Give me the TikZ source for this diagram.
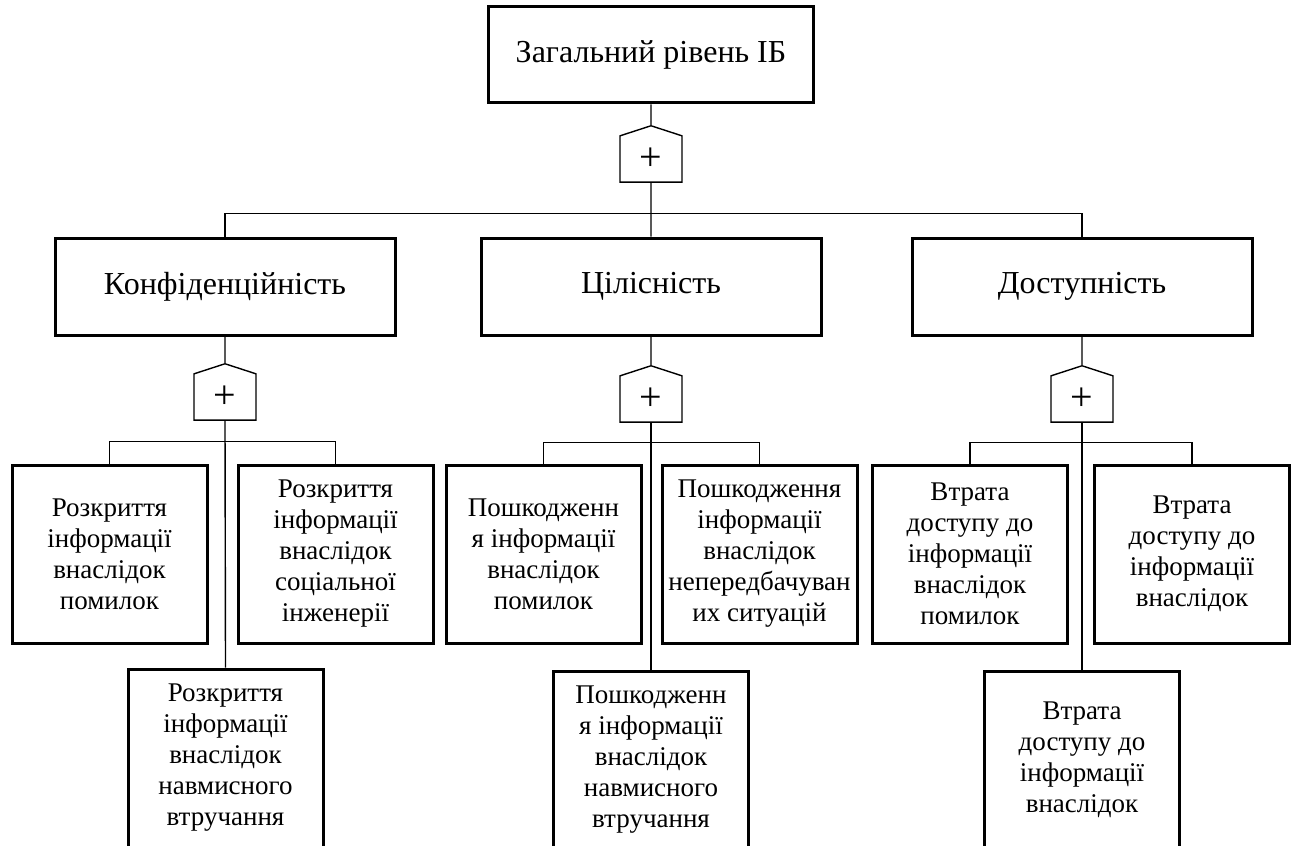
\documentclass[tikz,border=0pt]{standalone}
\usepackage{fontspec}
\setmainfont{Liberation Serif}
\usetikzlibrary{positioning,shapes.symbols}

\begin{document}
\begin{tikzpicture}[x=0.5pt,y=-0.5pt,
    box/.style={draw, line width=1.5pt, align=center, inner sep=2pt},
    topbox/.style={box, minimum width=162.5pt, minimum height=48pt, font=\fontsize{16}{18.5}\selectfont},
    midbox/.style={box, minimum width=170pt, minimum height=48.5pt, font=\fontsize{16}{18.5}\selectfont},
    leafbox/.style={box, minimum width=97.5pt, minimum height=89pt, font=\fontsize{13.5}{15.5}\selectfont},
    gate/.style={draw, line width=0.7pt, signal, signal to=north, signal pointer angle=144, minimum width=31pt, minimum height=25pt, inner sep=0pt, font=\fontsize{20}{20}\selectfont},
    link/.style={line width=0.7pt}]
        \clip (0,0) rectangle (1299,845);

        \node[topbox] (overall) at (651,55) {Загальний рівень ІБ};
        \node[gate] (gtop) at (651,159) {+};

        \node[midbox] (conf) at (225,286.5) {Конфіденційність};
        \node[midbox] (integ) at (651,286.5) {Цілісність};
        \node[midbox] (avail) at (1082,286.5) {Доступність};

        \node[gate] (gconf) at (225,397) {+};
        \node[gate] (ginteg) at (651,399) {+};
        \node[gate] (gavail) at (1082,399) {+};

        \node[leafbox] (confErr) at (109.5,554) {Розкриття\\інформації\\внаслідок\\помилок};
        \node[leafbox] (confSoc) at (335.5,554) {Розкриття\\інформації\\внаслідок\\соціальної\\інженерії};
        \node[leafbox] (confInt) at (225.5,758) {Розкриття\\інформації\\внаслідок\\навмисного\\втручання};

        \node[leafbox] (integErr) at (543.5,554) {Пошкодженн\\я інформації\\внаслідок\\помилок};
        \node[leafbox] (integSit) at (759.5,554) {Пошкодження\\інформації\\внаслідок\\непередбачуван\\их ситуацій};
        \node[leafbox] (integInt) at (651,760) {Пошкодженн\\я інформації\\внаслідок\\навмисного\\втручання};

        \node[leafbox] (availErr) at (970,554) {Втрата\\доступу до\\інформації\\внаслідок\\помилок};
        \node[leafbox] (availB) at (1192,554) {Втрата\\доступу до\\інформації\\внаслідок};
        \node[leafbox] (availC) at (1082,760) {Втрата\\доступу до\\інформації\\внаслідок};

        \draw[link] (overall) -- (gtop);
        \draw[link] (gtop) -- (integ);
        \draw[link] (conf.north) -- ++(0,-23) -| (avail.north);

        \draw[link] (conf) -- (gconf);
        \draw[link] (gconf.south) -- (confInt.north);
        \draw[link] (confErr.north) -- ++(0,-22) -| (confSoc.north);

        \draw[link] (integ) -- (ginteg);
        \draw[link] (ginteg.south) -- (integInt.north);
        \draw[link] (integErr.north) -- ++(0,-21) -| (integSit.north);

        \draw[link] (avail) -- (gavail);
        \draw[link] (gavail.south) -- (availC.north);
        \draw[link] (availErr.north) -- ++(0,-21) -| (availB.north);
    \end{tikzpicture}
\end{document}
